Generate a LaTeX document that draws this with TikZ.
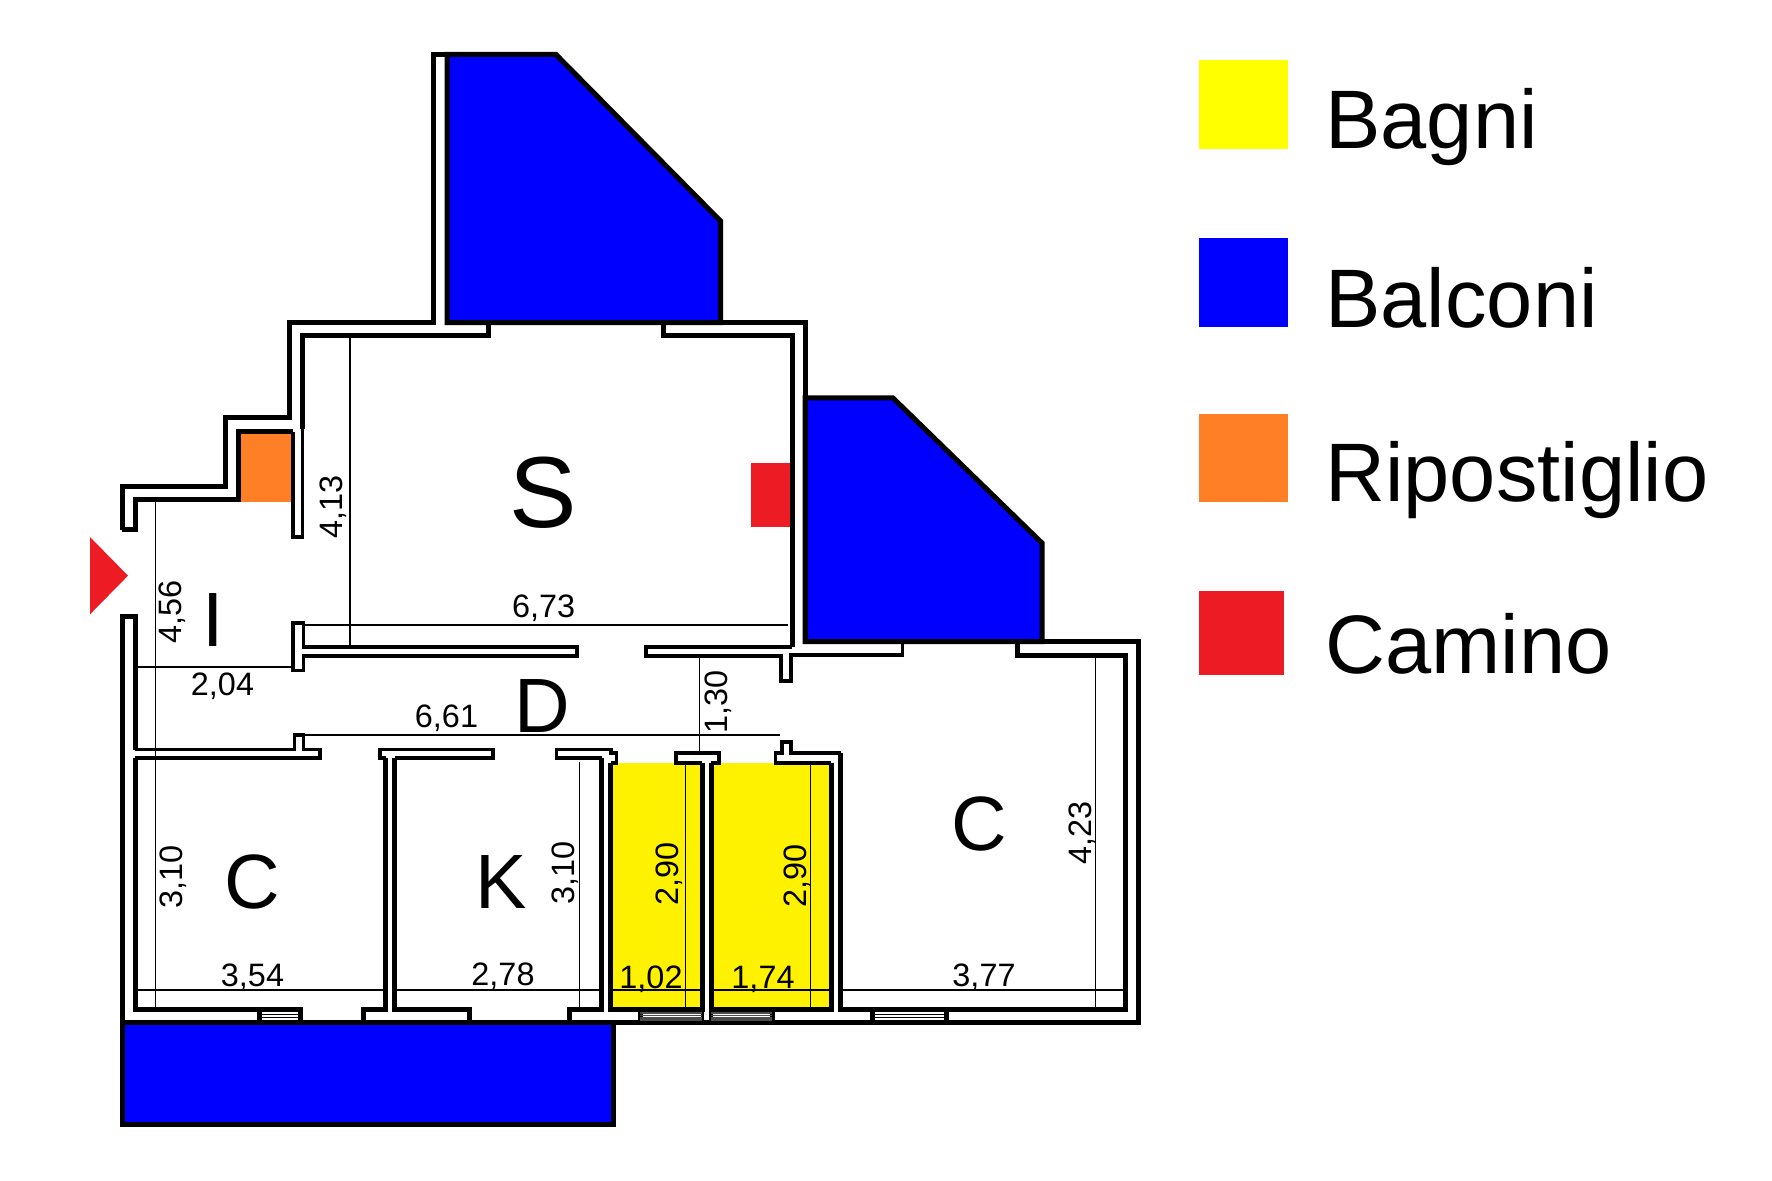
\documentclass[tikz,border=0pt]{standalone}
\usepackage{fontspec}
\setmainfont{Liberation Sans}
\definecolor{balc}{HTML}{0000FF}
\definecolor{bath}{HTML}{FFF200}
\definecolor{legy}{HTML}{FFFF00}
\definecolor{rip}{HTML}{FF7F27}
\definecolor{cam}{HTML}{ED1C24}
\tikzset{
 wall/.style={draw=black,line width=2.5pt,line join=miter},
 iwall/.style={draw=black,line width=1.6pt,line join=miter},
 dim/.style={draw=black,line width=.6pt},
 hatch/.style={draw=black,line width=.5pt},
 ghatch/.style={draw=black!70,line width=.7pt},
 dimtxt/.style={font=\fontsize{16.2}{18}\selectfont,inner sep=0pt,anchor=base},
 vdimtxt/.style={font=\fontsize{16.2}{18}\selectfont,inner sep=0pt,anchor=base,rotate=90},
 room/.style={font=\fontsize{38.5}{40}\selectfont,inner sep=0pt,anchor=center},
 legtxt/.style={font=\fontsize{41.5}{44}\selectfont,inner sep=0pt,anchor=base west},
}
\begin{document}
\begin{tikzpicture}[x=0.5pt,y=-0.5pt]
\useasboundingbox (0,0) rectangle (1772,1181);
\fill[white] (0,0) rectangle (1772,1181);
% coloured areas
\fill[bath] (611,763) rectangle (702,1008);
\fill[bath] (711,763) rectangle (831,1008);
\fill[rip] (240.7,434) rectangle (292.3,501.7);
\fill[cam] (751,462.8) rectangle (790.6,527);
\fill[cam] (90,537) -- (90,614.3) -- (128,575.7) -- cycle;
% dimension lines
\draw[dim] (155.7,501.7) -- (155.7,1008);
\draw[dim] (137,667) -- (293,667);
\draw[dim] (350,336) -- (350,647);
\draw[dim] (304,625) -- (788,625);
\draw[dim] (304,735) -- (780,735);
\draw[dim] (699.7,656) -- (699.7,752);
\draw[dim] (137.5,990) -- (385.7,990);
\draw[dim] (396,990) -- (599,990);
\draw[dim] (611,990) -- (702,990);
\draw[dim] (712,990) -- (831,990);
\draw[dim] (841,990) -- (1122.6,990);
\draw[dim] (579.3,761.7) -- (579.3,1009);
\draw[dim] (685.5,763) -- (685.5,1008);
\draw[dim] (810.7,763) -- (810.7,1008);
\draw[dim] (1095.8,658) -- (1095.8,1009);
% balconies
\draw[wall,fill=balc] (447,54.5) -- (556,54.5) -- (720.5,221) -- (720.5,322.7) -- (447,322.7) -- cycle;
\draw[wall,fill=balc] (805,398) -- (893,398) -- (1042,543) -- (1042,641.7) -- (805,641.7) -- cycle;
\draw[wall,fill=balc] (122,1022.7) -- (613.6,1022.7) -- (613.6,1124) -- (122,1124) -- cycle;
% walls
\draw[wall] (122,530) -- (122,487) -- (225,487) -- (225,418) -- (289,418) -- (289,322.7) -- (433,322.7) -- (433,54.5) -- (447,54.5);
\draw[wall] (720.5,322.7) -- (805,322.7) -- (805,641.7);
\draw[iwall] (902.5,641.7) -- (902.5,655) -- (791,655) -- (791,681) -- (781,681) -- (781,656) -- (646,656) -- (646,647) -- (792,647);
\draw[wall] (792,647) -- (792,336) -- (663,336) -- (663,322.7);
\draw[wall] (122,530) -- (135,530) -- (135,500) -- (238,500) -- (238,432) -- (293,432);
\draw[iwall] (293,432) -- (293,537) -- (302.7,537) -- (302.7,429);
\draw[wall] (302.7,429) -- (302.7,336) -- (488,336) -- (488,322.7);
\draw[iwall] (303.5,623) -- (293,623) -- (293,670.7) -- (303.5,670.7) -- (303.5,656) -- (577,656) -- (577,647) -- (303.5,647) -- cycle;
\draw[wall] (135,749.5) -- (135,617) -- (122,617) -- (122,1022.7);
\draw[iwall] (135,749.5) -- (294.6,749.5) -- (294.6,735) -- (303.6,735) -- (303.6,749.5) -- (320,749.5) -- (320,758) -- (135,758);
\draw[wall] (135,758) -- (135,1009) -- (300,1009) -- (300,1022);
\draw[wall] (259,1009) -- (259,1022);
\draw[wall] (363,1022) -- (363,1009) -- (385.7,1009) -- (385.7,758);
\draw[iwall] (385.7,758) -- (380,758) -- (380,749.5) -- (493,749.5) -- (493,758) -- (394.6,758);
\draw[wall] (394.6,758) -- (394.6,1009) -- (469.6,1009) -- (469.6,1022);
\draw[wall] (569.6,1022) -- (569.6,1009) -- (601.8,1009) -- (601.8,758);
\draw[iwall] (601.8,758) -- (556.4,758) -- (556.4,749.5) -- (611,749.5) -- (611,753) -- (616.5,753) -- (616.5,763) -- (610.7,763);
\draw[wall] (610.7,763) -- (610.7,1009) -- (702.4,1009) -- (702.4,763);
\draw[iwall] (702.4,763) -- (676,763) -- (676,753) -- (719,753) -- (719,763) -- (711,763);
\draw[wall] (711,763) -- (711,1009) -- (831,1009) -- (831,763);
\draw[iwall] (831,763) -- (775.5,763) -- (775.5,753) -- (782,753) -- (782,742) -- (791,742) -- (791,753) -- (840.5,753);
\draw[wall] (840.5,753) -- (840.5,1009) -- (1125,1009) -- (1125,655) -- (1017,655) -- (1017,641.7) -- (1138,641.7) -- (1138,1022.7) -- (613.6,1022.7);
\draw[wall] (872,1009) -- (872,1022);
\draw[wall] (946.5,1009) -- (946.5,1022);
\draw[iwall] (702.4,1009) -- (702.4,1022);
\draw[iwall] (711,1009) -- (711,1022);
\draw[wall] (640,1009) -- (640,1022);
\draw[wall] (772,1009) -- (772,1022);
% windows
\draw[hatch] (259,1014) -- (300,1014) (259,1017.5) -- (300,1017.5);
\draw[hatch] (872,1014) -- (946.5,1014) (872,1017.5) -- (946.5,1017.5);
\draw[ghatch] (640,1013) -- (702,1013) (640,1015.5) -- (702,1015.5) (640,1018) -- (702,1018) (640,1020) -- (702,1020);
\draw[ghatch] (711,1013) -- (772,1013) (711,1015.5) -- (772,1015.5) (711,1018) -- (772,1018) (711,1020) -- (772,1020);
% room letters
\node[room,font=\fontsize{50.5}{52}\selectfont] (rS) at (543,493) {S};
\node[room] (rI) at (213,620) {I};
\node[room] (rD) at (542,706) {D};
\node[room] (rC1) at (252,882) {C};
\node[room] (rK) at (501,882) {K};
\node[room] (rC2) at (979,824) {C};
% dimensions
\node[dimtxt] (d673) at (543.7,617.6) {6,73};
\node[dimtxt] (d204) at (222.5,695) {2,04};
\node[dimtxt] (d661) at (446.5,727.7) {6,61};
\node[dimtxt] (d354) at (252.5,986.7) {3,54};
\node[dimtxt] (d278) at (503,985.7) {2,78};
\node[dimtxt] (d102) at (651,988) {1,02};
\node[dimtxt] (d174) at (763,988) {1,74};
\node[dimtxt] (d377) at (984,986.7) {3,77};
\node[vdimtxt] (d456) at (181,611.7) {4,56};
\node[vdimtxt] (d413) at (342.5,507) {4,13};
\node[vdimtxt] (d310a) at (182,877) {3,10};
\node[vdimtxt] (d310b) at (574,872.7) {3,10};
\node[vdimtxt] (d290a) at (678,874) {2,90};
\node[vdimtxt] (d290b) at (806,876) {2,90};
\node[vdimtxt] (d423) at (1091,833) {4,23};
\node[vdimtxt] (d130) at (727,701.7) {1,30};
% legend
\fill[legy] (1199,60) rectangle (1288,149);
\fill[balc] (1199,238) rectangle (1288,327);
\fill[rip] (1199,414) rectangle (1288,502);
\fill[cam] (1199,591) rectangle (1284,675);
\node[legtxt] (lb) at (1325,148.5) {Bagni};
\node[legtxt] (lc) at (1325,327.5) {Balconi};
\node[legtxt] (lr) at (1325,502) {Ripostiglio};
\node[legtxt] (lk) at (1325,673) {Camino};
\end{tikzpicture}
\end{document}
